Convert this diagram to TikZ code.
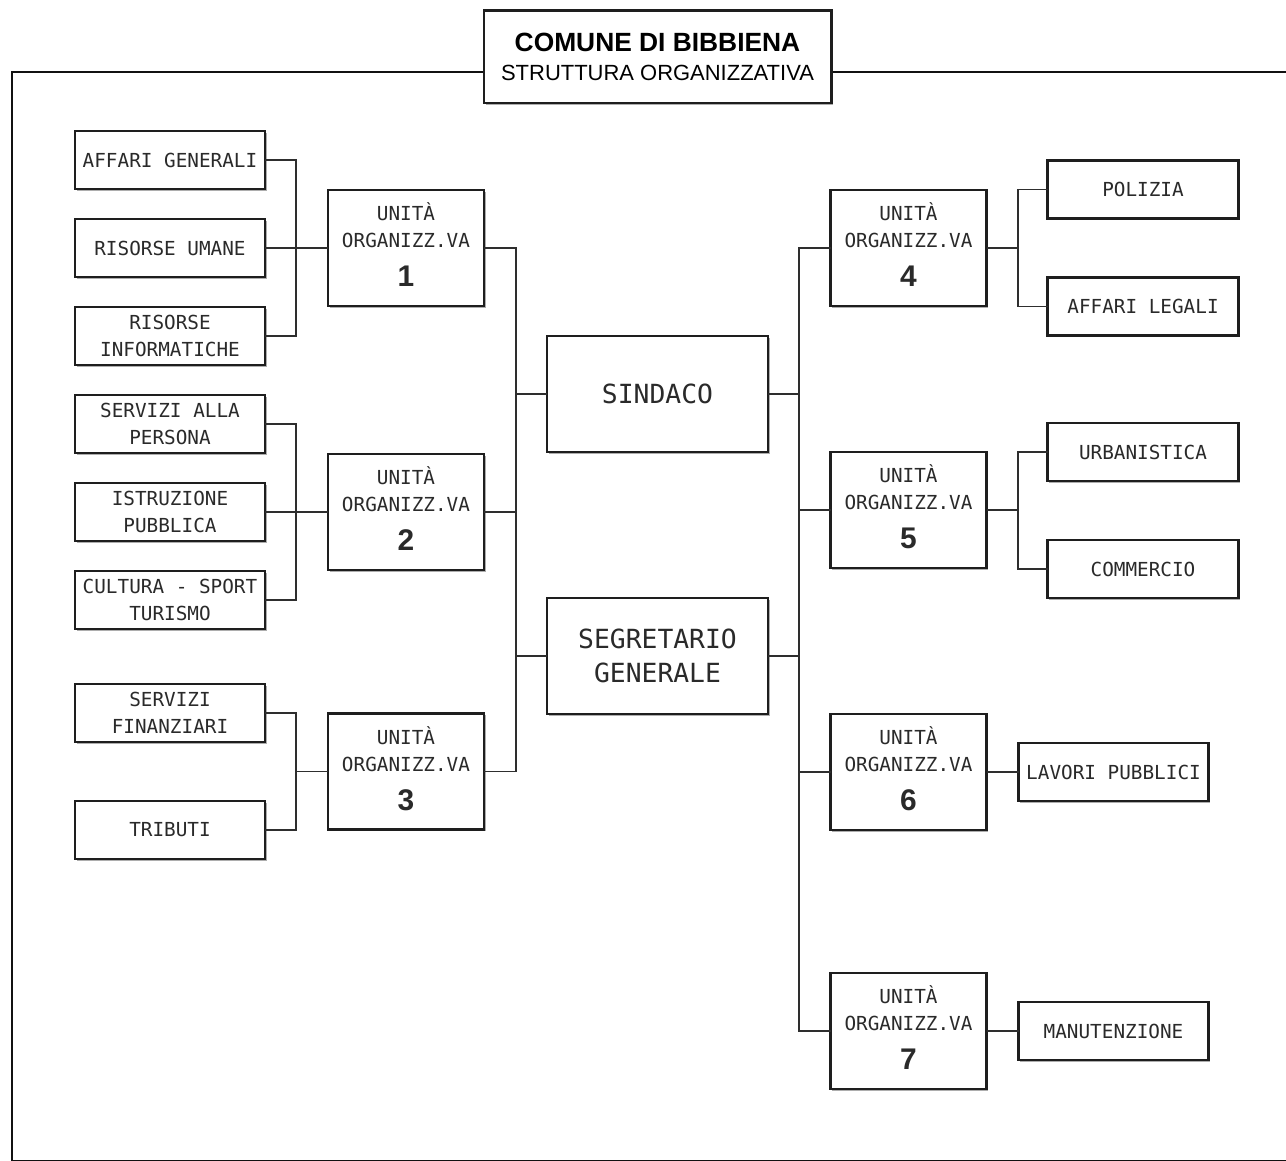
\documentclass[tikz,border=0pt]{standalone}
\usepackage{fontspec}
\setmainfont{Liberation Sans}
\newfontfamily\boxfont{DejaVu Sans Mono}
\usetikzlibrary{positioning, shadows, calc}
\definecolor{clrborder}{HTML}{1E1E1E}
\definecolor{clrlink}{HTML}{2E2E2E}
\definecolor{clrtext}{HTML}{2A2A2A}
\definecolor{clrframe}{HTML}{111111}
\definecolor{clrshadow}{HTML}{6A6A6A}
\newcommand{\unitlabel}[1]{UNITÀ\\ORGANIZZ.VA\\[7pt]{\rmfamily\bfseries\fontsize{17}{17}\selectfont #1}}

\begin{document}
\begin{tikzpicture}[
    every node/.style={font=\boxfont},
    box/.style={draw=clrborder, line width=1.2pt, fill=white, outer sep=0pt, inner sep=1pt,
                minimum width=3.8cm, minimum height=1.16cm, align=center,
                font=\boxfont\fontsize{11}{15.3}\selectfont, text=clrtext,
                drop shadow={shadow xshift=1.1pt, shadow yshift=-1.1pt, fill=clrshadow, opacity=0.55}},
    unitbox/.style={box, minimum width=3.12cm, minimum height=2.32cm, text depth=0.13cm},
    headbox/.style={box, minimum width=4.42cm, minimum height=2.32cm,
                    font=\boxfont\fontsize{15}{19}\selectfont},
    titlebox/.style={box, line width=1.7pt, minimum width=6.94cm, minimum height=1.84cm,
                     font=\rmfamily, text=black},
    link/.style={draw=clrlink, line width=0.8pt},
    frame/.style={draw=clrframe, line width=1.7pt},
]
\useasboundingbox (0,0) rectangle (25.72,-23.22);
\clip (0,0) rectangle (25.72,-23.22);
\draw[frame] (0.24,-1.44) rectangle (26.5,-23.235);
\node[titlebox] (n_1) at (13.15,-1.14) {{\bfseries\fontsize{15}{17}\selectfont COMUNE DI BIBBIENA}\\[4.5pt]{\fontsize{12.5}{17}\selectfont STRUTTURA ORGANIZZATIVA}};
\node[box] (n_2) at (3.4,-3.2) {AFFARI GENERALI};
\node[box, below=0.6cm of n_2] (n_3) {RISORSE UMANE};
\node[box, below=0.6cm of n_3] (n_4) {RISORSE\\INFORMATICHE};
\node[box, below=0.6cm of n_4] (n_5) {SERVIZI ALLA\\PERSONA};
\node[box, below=0.6cm of n_5] (n_6) {ISTRUZIONE\\PUBBLICA};
\node[box, below=0.6cm of n_6] (n_7) {CULTURA - SPORT\\TURISMO};
\node[box, below=1.1cm of n_7] (n_8) {SERVIZI\\FINANZIARI};
\node[box, below=1.18cm of n_8] (n_9) {TRIBUTI};
\node[unitbox, right=1.26cm of n_3] (n_10) {\unitlabel{1}};
\node[unitbox, right=1.26cm of n_6] (n_11) {\unitlabel{2}};
\coordinate (n_12_mid) at ($(n_8.east)!0.5!(n_9.east)$);
\node[unitbox, right=1.26cm of n_12_mid] (n_12) {\unitlabel{3}};
\node[headbox] (n_13) at (13.15,-7.88) {SINDACO};
\node[headbox, below=2.92cm of n_13] (n_14) {SEGRETARIO\\GENERALE};
\node[unitbox] (n_15) at (18.17,-4.96) {\unitlabel{4}};
\node[unitbox, below=2.92cm of n_15] (n_16) {\unitlabel{5}};
\node[unitbox, below=2.92cm of n_16] (n_17) {\unitlabel{6}};
\node[unitbox, below=2.86cm of n_17] (n_18) {\unitlabel{7}};
\node[box, minimum width=3.82cm, above right=0.59cm and 1.22cm of n_15.east] (n_19) {POLIZIA};
\node[box, minimum width=3.82cm, below right=0.59cm and 1.22cm of n_15.east] (n_20) {AFFARI LEGALI};
\node[box, minimum width=3.82cm, above right=0.58cm and 1.22cm of n_16.east] (n_21) {URBANISTICA};
\node[box, minimum width=3.82cm, below right=0.6cm and 1.22cm of n_16.east] (n_22) {COMMERCIO};
\node[box, right=0.64cm of n_17] (n_23) {LAVORI PUBBLICI};
\node[box, right=0.64cm of n_18] (n_24) {MANUTENZIONE};
\draw[link] (n_2.east) -- ++(0.62,0) |- (n_10.west);
\draw[link] (n_3.east) -- (n_10.west);
\draw[link] (n_4.east) -- ++(0.62,0) |- (n_10.west);
\draw[link] (n_5.east) -- ++(0.62,0) |- (n_11.west);
\draw[link] (n_6.east) -- (n_11.west);
\draw[link] (n_7.east) -- ++(0.62,0) |- (n_11.west);
\draw[link] (n_8.east) -- ++(0.62,0) |- (n_12.west);
\draw[link] (n_9.east) -- ++(0.62,0) |- (n_12.west);
\draw[link] (n_10.east) -- ++(0.64,0) |- (n_13.west);
\draw[link] (n_11.east) -- ++(0.64,0) |- (n_13.west);
\draw[link] (n_11.east) -- ++(0.64,0) |- (n_14.west);
\draw[link] (n_12.east) -- ++(0.64,0) |- (n_14.west);
\draw[link] (n_13.east) -- ++(0.62,0) |- (n_15.west);
\draw[link] (n_13.east) -- ++(0.62,0) |- (n_16.west);
\draw[link] (n_14.east) -- ++(0.62,0) |- (n_16.west);
\draw[link] (n_14.east) -- ++(0.62,0) |- (n_17.west);
\draw[link] (n_14.east) -- ++(0.62,0) |- (n_18.west);
\draw[link] (n_15.east) -- ++(0.63,0) |- (n_19.west);
\draw[link] (n_15.east) -- ++(0.63,0) |- (n_20.west);
\draw[link] (n_16.east) -- ++(0.63,0) |- (n_21.west);
\draw[link] (n_16.east) -- ++(0.63,0) |- (n_22.west);
\draw[link] (n_17.east) -- (n_23.west);
\draw[link] (n_18.east) -- (n_24.west);
\end{tikzpicture}
\end{document}
